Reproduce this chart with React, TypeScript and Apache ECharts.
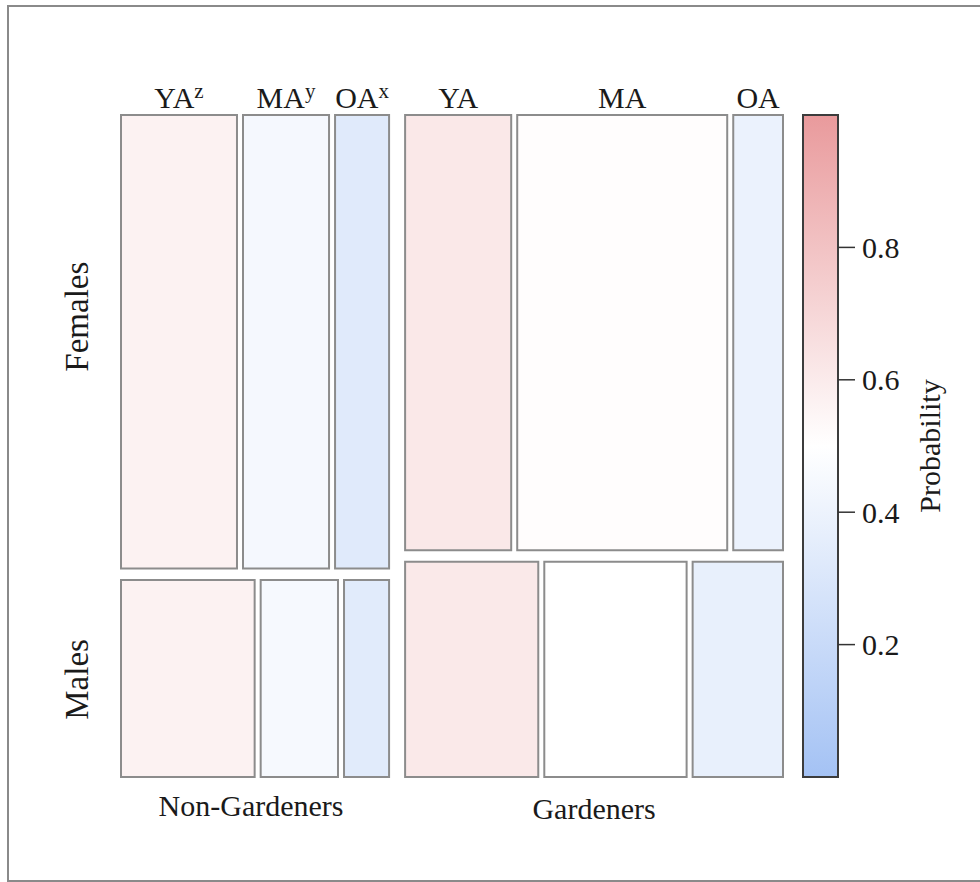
import React, { useEffect, useRef } from "react";
import * as echarts from "echarts";

// ---- data ----
const groups = ["Non-Gardeners", "Gardeners"];
const sexes = ["Females", "Males"];
const ages = ["YA", "MA", "OA"];
const ageMarks = [["z", "y", "x"], ["", "", ""]];
const groupShare = [0.415, 0.585];
const femaleShare = [0.697, 0.669];
const femaleAgeShare = [[0.453, 0.336, 0.211], [0.29, 0.574, 0.136]];
const maleAgeShare = [[0.522, 0.302, 0.176], [0.364, 0.389, 0.247]];
const femaleProb = [[0.565, 0.445, 0.33], [0.615, 0.51, 0.39]];
const maleProb = [[0.565, 0.45, 0.335], [0.61, 0.5, 0.375]];
const probTicks = [0.2, 0.4, 0.6, 0.8];
const paletteColors = ["#a4c2f4", "#ffffff", "#e99a9c"];

const FONT = "'Liberation Serif', 'Times New Roman', serif";
const GROUP_GAP = 0.0242;
const AGE_GAP = 0.0091;
const SEX_GAP = 0.0174;

function buildCells() {
  const cells: any[] = [];
  const availX = 1 - GROUP_GAP * (groups.length - 1);
  let gx = 0;
  groups.forEach((_g, gi) => {
    const gw = groupShare[gi] * availX;
    const availY = 1 - SEX_GAP;
    const fh = femaleShare[gi] * availY;
    const mh = availY - fh;
    const rows: [number[], number[], number, number, number][] = [
      [femaleAgeShare[gi], femaleProb[gi], 1 - fh, 1, 0],
      [maleAgeShare[gi], maleProb[gi], 0, mh, 1],
    ];
    rows.forEach(([shares, probs, y0, y1, si]) => {
      const availA = gw - AGE_GAP * (ages.length - 1);
      let ax = gx;
      ages.forEach((_a, ai) => {
        const w = shares[ai] * availA;
        cells.push([ax, ax + w, y0, y1, probs[ai], gi, si, ai, gx, gx + gw]);
        ax += w + AGE_GAP;
      });
    });
    gx += gw + GROUP_GAP;
  });
  return cells;
}

export default function App() {
  const ref = useRef<HTMLDivElement>(null);
  useEffect(() => {
    document.body.style.margin = "0";
    const chart = echarts.init(ref.current!, null, { renderer: "svg" });
    const cells = buildCells();
    const textBase = { fontFamily: FONT, fill: "#1a1a1a" };

    const renderCell = (_params: any, api: any) => {
      const x0 = api.value(0), x1 = api.value(1), y0 = api.value(2), y1 = api.value(3);
      const gi = api.value(5), si = api.value(6), ai = api.value(7);
      const gx0 = api.value(8), gx1 = api.value(9);
      const p0 = api.coord([x0, y1]);
      const p1 = api.coord([x1, y0]);
      const children: any[] = [
        {
          type: "rect",
          shape: { x: p0[0], y: p0[1], width: p1[0] - p0[0], height: p1[1] - p0[1] },
          style: { fill: api.visual("color"), stroke: "#8c8c8c", lineWidth: 2 },
        },
      ];
      const cx = (p0[0] + p1[0]) / 2;
      if (si === 0) {
        const mark = ageMarks[gi][ai];
        children.push({
          type: "text",
          x: cx,
          y: p0[1] - 18,
          style: {
            ...textBase,
            text: mark ? `${ages[ai]}{s|${mark}}` : ages[ai],
            fontSize: 30,
            lineHeight: 34,
            align: "center",
            verticalAlign: "middle",
            rich: { s: { fontSize: 21, fontFamily: FONT, verticalAlign: "top", lineHeight: 21, fill: "#1a1a1a" } },
          },
        });
      }
      if (si === 1 && ai === 0) {
        const gc = api.coord([(gx0 + gx1) / 2, y0]);
        children.push({
          type: "text",
          x: gc[0] - (gi === 0 ? 4 : 0),
          y: p1[1] + 28 + gi * 3,
          style: { ...textBase, text: groups[gi], fontSize: 30, align: "center", verticalAlign: "middle" },
        });
      }
      if (gi === 0 && ai === 0) {
        children.push({
          type: "text",
          x: p0[0] - 44,
          y: (p0[1] + p1[1]) / 2 + (si === 0 ? -25 : 1),
          rotation: Math.PI / 2,
          style: { ...textBase, text: sexes[si], fontSize: 33, align: "center", verticalAlign: "middle" },
        });
      }
      return { type: "group", children };
    };

    const stops = paletteColors
      .slice()
      .reverse()
      .map((c, i, arr) => ({ offset: i / (arr.length - 1), color: c }));

    const renderBar = (_params: any, api: any) => {
      const p0 = api.coord([0, 1]);
      const p1 = api.coord([1, 0]);
      const ticks = probTicks.map((t) => {
        const pt = api.coord([1, t]);
        return {
          type: "line",
          shape: { x1: pt[0], y1: pt[1], x2: pt[0] + 17, y2: pt[1] },
          style: { stroke: "#333333", lineWidth: 1.5 },
        };
      });
      return {
        type: "group",
        children: [
          {
            type: "rect",
            shape: { x: p0[0], y: p0[1], width: p1[0] - p0[0], height: p1[1] - p0[1] },
            style: {
              fill: new echarts.graphic.LinearGradient(0, 0, 0, 1, stops),
              stroke: "#3c3c3c",
              lineWidth: 2,
            },
          },
          ...ticks,
        ],
      };
    };

    chart.setOption({
      animation: false,
      backgroundColor: "#ffffff",
      grid: [
        { left: 121, top: 115, width: 662, height: 662 },
        { left: 803, top: 115, width: 35, height: 662 },
      ],
      xAxis: [
        { gridIndex: 0, type: "value", min: 0, max: 1, show: false },
        { gridIndex: 1, type: "value", min: 0, max: 1, show: false },
      ],
      yAxis: [
        { gridIndex: 0, type: "value", min: 0, max: 1, show: false },
        {
          gridIndex: 1,
          type: "value",
          min: 0,
          max: 1,
          interval: 0.2,
          position: "right",
          splitLine: { show: false },
          axisLine: { show: false },
          axisTick: { show: false },
          axisLabel: {
            margin: 24,
            customValues: probTicks,
            formatter: (v: number) => v.toFixed(1),
            fontFamily: FONT,
            fontSize: 30,
            color: "#1a1a1a",
          },
          name: "Probability",
          nameLocation: "middle",
          nameRotate: 90,
          nameGap: 76,
          nameTextStyle: { fontFamily: FONT, fontSize: 30, color: "#1a1a1a" },
        },
      ],
      visualMap: {
        type: "continuous",
        show: false,
        min: 0,
        max: 1,
        dimension: 4,
        seriesIndex: 0,
        inRange: { color: paletteColors },
      },
      graphic: [
        {
          type: "rect",
          silent: true,
          shape: { x: 8, y: 6, width: 1000, height: 875 },
          style: { fill: "none", stroke: "#8a8a8a", lineWidth: 2 },
        },
      ],
      series: [
        {
          type: "custom",
          xAxisIndex: 0,
          yAxisIndex: 0,
          renderItem: renderCell,
          data: cells,
          encode: { x: [0, 1], y: [2, 3] },
        },
        {
          type: "custom",
          xAxisIndex: 1,
          yAxisIndex: 1,
          renderItem: renderBar,
          data: [[0, 1]],
        },
      ],
    });
    return () => chart.dispose();
  }, []);
  return <div ref={ref} style={{ width: 980, height: 882 }} />;
}
